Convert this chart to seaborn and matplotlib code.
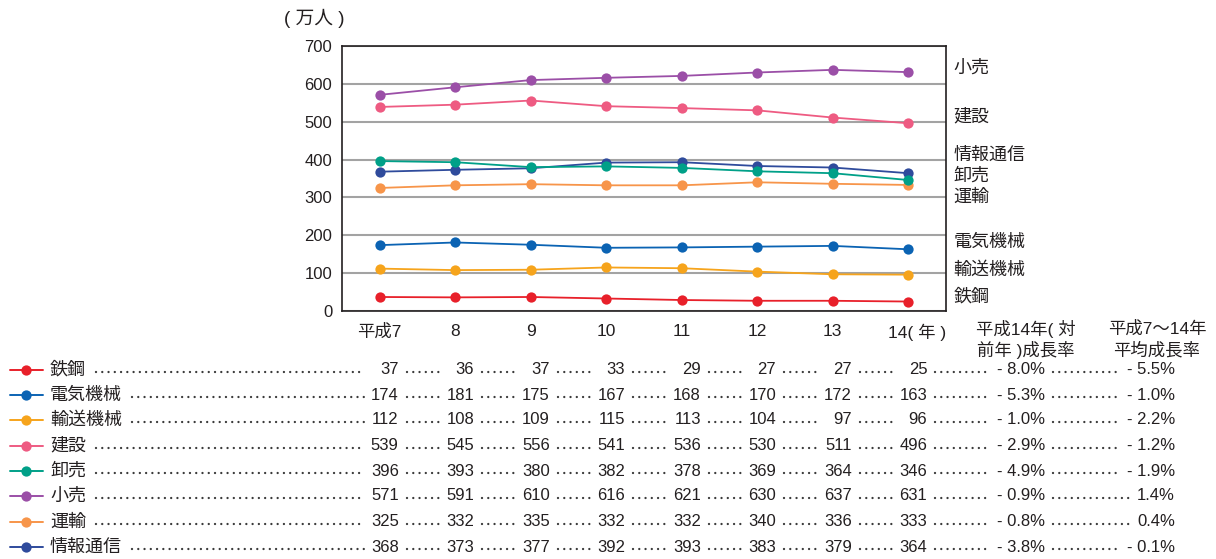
import matplotlib
matplotlib.use("Agg")
import matplotlib.pyplot as plt
import matplotlib.transforms as mtransforms
from matplotlib.lines import Line2D
import pandas as pd
import seaborn as sns

# ---- data -------------------------------------------------------------
years = ["平成7", "8", "9", "10", "11", "12", "13", "14( 年 )"]
industries = ["鉄鋼", "電気機械", "輸送機械", "建設", "卸売", "小売", "運輸", "情報通信"]
tekko = [37, 36, 37, 33, 29, 27, 27, 25]
denki = [174, 181, 175, 167, 168, 170, 172, 163]
yuso = [112, 108, 109, 115, 113, 104, 97, 96]
kensetsu = [539, 545, 556, 541, 536, 530, 511, 496]
oroshi = [396, 393, 380, 382, 378, 369, 364, 346]
kouri = [571, 591, 610, 616, 621, 630, 637, 631]
unyu = [325, 332, 335, 332, 332, 340, 336, 333]
joho = [368, 373, 377, 392, 393, 383, 379, 364]
yoy_growth = [-8.0, -5.3, -1.0, -2.9, -4.9, -0.9, -0.8, -3.8]
avg_growth = [-5.5, -1.0, -2.2, -1.2, -1.9, 1.4, 0.4, -0.1]
yoy_header = ["平成14年( 対", "前年 )成長率"]
avg_header = ["平成7～14年", "平均成長率"]
unit_label = "( 万人 )"

series = [tekko, denki, yuso, kensetsu, oroshi, kouri, unyu, joho]

# ---- styling ----------------------------------------------------------
colors = {
    "鉄鋼": "#e8202a",
    "電気機械": "#0b63b3",
    "輸送機械": "#f6a41c",
    "建設": "#ee5b82",
    "卸売": "#00a088",
    "小売": "#9b4fa7",
    "運輸": "#f7954a",
    "情報通信": "#2f4b9c",
}
draw_order = ["鉄鋼", "電気機械", "輸送機械", "建設", "小売", "運輸", "情報通信", "卸売"]
# vertical placement (data units) of the series names at the right edge
side_label_y = {"小売": 642, "建設": 512, "情報通信": 412, "卸売": 357,
                "運輸": 301, "電気機械": 182, "輸送機械": 108, "鉄鋼": 37}

TXT = "#231f20"
W, H = 1216, 559

sns.set_theme(style="white")
plt.rcParams["font.family"] = ["Liberation Sans", "Noto Sans CJK JP"]
plt.rcParams["text.color"] = TXT
plt.rcParams["axes.labelcolor"] = TXT
plt.rcParams["xtick.color"] = TXT
plt.rcParams["ytick.color"] = TXT
plt.rcParams["lines.scale_dashes"] = False

def fx(px):
    return px / W

def fy(py):
    return 1 - py / H

fig = plt.figure(figsize=(W / 100, H / 100), dpi=100)
ax = fig.add_axes([fx(342), fy(311), fx(604), 265 / H])

# ---- line chart ---------------------------------------------------------
records = []
for name, vals in zip(industries, series):
    for i, v in enumerate(vals):
        records.append({"pos": i + 0.5, "value": v, "series": name})
df = pd.DataFrame(records)

sns.lineplot(data=df, x="pos", y="value", hue="series", hue_order=draw_order,
             palette=colors, marker="o", markersize=7.4, markeredgewidth=0,
             linewidth=1.3, legend=False, ax=ax, zorder=3, errorbar=None)

ax.set_xlim(0, len(years))
ax.set_ylim(0, 700)
ax.set_yticks(range(0, 701, 100))
ax.set_yticklabels([str(v) for v in range(0, 701, 100)], fontsize=12)
ax.yaxis.grid(True, color="#a3a3a3", linewidth=1.5)
ax.xaxis.grid(False)
ax.set_axisbelow(True)
ax.set_xlabel("")
ax.set_ylabel("")

ax.set_xticks(range(1, len(years)))
ax.set_xticklabels([])
ax.set_xticks([i + 0.5 for i in range(len(years))], minor=True)
ax.set_xticklabels(years, minor=True, fontsize=12.5)
ax.tick_params(axis="x", which="major", direction="in", length=6, width=1.2, color=TXT)
ax.tick_params(axis="x", which="minor", length=0, pad=9)
ax.tick_params(axis="y", length=0, pad=7)
last = ax.get_xticklabels(minor=True)[-1]
last.set_transform(last.get_transform() + mtransforms.ScaledTranslation(0.09, 0, fig.dpi_scale_trans))

for sp in ax.spines.values():
    sp.set_color(TXT)
    sp.set_linewidth(1.2)
    sp.set_visible(True)

side_tf = mtransforms.blended_transform_factory(ax.transAxes, ax.transData)
for name in industries:
    ax.text(1.012, side_label_y[name], name, transform=side_tf, ha="left",
            va="center", fontsize=13, color=TXT)

fig.text(fx(314), fy(18), unit_label, ha="center", va="center", fontsize=13.5)

# ---- header of the growth-rate columns -----------------------------------
for line, py in zip(yoy_header, (329, 350)):
    fig.text(fx(1026), fy(py), line, ha="center", va="center", fontsize=12.5)
for line, py in zip(avg_header, (329, 350)):
    fig.text(fx(1157), fy(py), line, ha="center", va="center", fontsize=12.5)

# ---- table beneath the chart ---------------------------------------------
row_y = [370, 395, 420, 446, 471, 496, 522, 547]
col_tf = mtransforms.blended_transform_factory(ax.transData, fig.transFigure) + \
    mtransforms.ScaledTranslation(0.19, 0, fig.dpi_scale_trans)

def fmt_pct(v):
    return f"- {abs(v):.1f}%" if v < 0 else f"{v:.1f}%"

rows_texts = []
for r, name in enumerate(industries):
    py = row_y[r]
    c = colors[name]
    fig.add_artist(Line2D([fx(10), fx(43)], [fy(py), fy(py)], color=c, lw=1.4,
                          transform=fig.transFigure))
    fig.add_artist(Line2D([fx(26.5)], [fy(py)], color=c, marker="o", markersize=7.4,
                          markeredgewidth=0, transform=fig.transFigure))
    texts = [fig.text(fx(50), fy(py), name, ha="left", va="center", fontsize=13)]
    for j, v in enumerate(series[r]):
        texts.append(fig.text(j + 0.5, fy(py), str(v), transform=col_tf,
                              ha="right", va="center", fontsize=12))
    texts.append(fig.text(fx(1045), fy(py), fmt_pct(yoy_growth[r]), ha="right",
                          va="center", fontsize=12))
    texts.append(fig.text(fx(1175), fy(py), fmt_pct(avg_growth[r]), ha="right",
                          va="center", fontsize=12))
    rows_texts.append((py, texts))

# dotted leaders between neighbouring cells; number cells reserve room
# for three digits so the leaders stop at a common column edge
fig.canvas.draw()
renderer = fig.canvas.get_renderer()
probe = fig.text(0, 0, "000", fontsize=12)
slot_w = probe.get_window_extent(renderer).width
probe.remove()
n_vals = len(years)
for py, texts in rows_texts:
    boxes = [t.get_window_extent(renderer) for t in texts]
    for k in range(len(boxes) - 1):
        gap_l = 10 if k == 0 else 8
        x0 = boxes[k].x1 + gap_l
        nxt = boxes[k + 1]
        left = nxt.x0
        if k + 1 <= n_vals:
            left = min(left, nxt.x1 - slot_w)
        x1 = left - 6
        if x1 <= x0:
            continue
        fig.add_artist(Line2D([fx(x0), fx(x1)], [fy(py + 2), fy(py + 2)],
                              color="#3a3a3a", lw=1.7, linestyle=(0, (0.01, 4.5)),
                              dash_capstyle="round", transform=fig.transFigure))

fig.savefig("out.png", dpi=100, facecolor="white")
